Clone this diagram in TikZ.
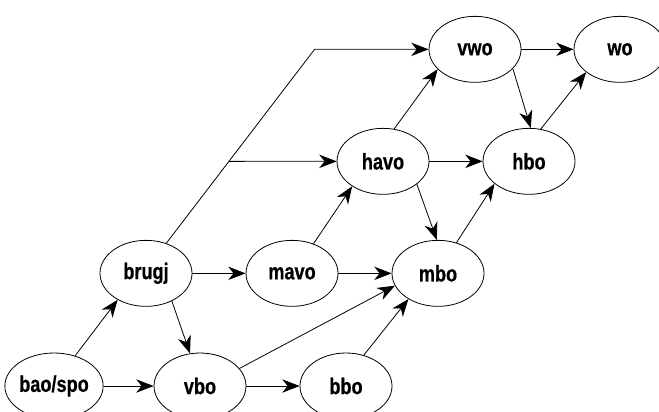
\documentclass[tikz,border=0pt]{standalone}
\usepackage{fontspec}
\newfontfamily\nlfont{Liberation Sans}[FakeStretch=0.8,FakeBold=0.6]
\usepackage{xcolor}
\definecolor{nlInk}{RGB}{0,0,0}
\usepackage{tikz}
\usetikzlibrary{positioning,arrows.meta,shapes.geometric}
\tikzset{
  nl-school/.style={ellipse,draw=nlInk,line width=0.6pt,minimum width=69pt,minimum height=49.5pt,
    inner sep=0pt,text=nlInk,font=\nlfont\bfseries\fontsize{17}{19}\selectfont},
  nl-arrow/.style={-{Stealth[length=13pt,width=10pt,inset=4pt]},nlInk,line width=0.6pt},
}
\begin{document}
\begin{tikzpicture}[x=0.75pt,y=-0.75pt,on grid,node distance=84.5pt and 109.5pt]
  \useasboundingbox (0,0) rectangle (659,411);

  % bottom row
  \node[nl-school] at (54,386) (bao) {bao/spo};
  \node[nl-school,right=of bao] (vbo) {vbo};
  \node[nl-school,right=of vbo] (bbo) {bbo};

  % middle rows
  \node[nl-school,above right=84.5pt and 69pt of bao] (brugj) {brugj};
  \node[nl-school,right=of brugj] (mavo) {mavo};
  \node[nl-school,right=of mavo] (mbo) {mbo};
  \node[nl-school,above right=84pt and 68.25pt of mavo] (havo) {havo};
  \node[nl-school,right=of havo] (hbo) {hbo};

  % top row
  \node[nl-school,above right=84pt and 69pt of havo] (vwo) {vwo};
  \node[nl-school,right=108.75pt of vwo] (wo) {wo};

  % long route brugj -> vwo, with a branch to havo
  \coordinate[left=85.5pt of vwo.west] (kink);
  \coordinate (fork) at (intersection of brugj.56--kink and havo.west--havo.east);

  % edges
  \draw[nl-arrow] (bao) -- (vbo);
  \draw[nl-arrow] (vbo) -- (bbo);
  \draw[nl-arrow] (bao.55) -- (brugj.223);
  \draw[nl-arrow] (brugj.-47) -- (vbo.107);
  \draw[nl-arrow] (brugj) -- (mavo);
  \draw[nl-arrow] (mavo) -- (mbo);
  \draw[nl-arrow] (vbo.24) -- (mbo.196);
  \draw[nl-arrow] (bbo.60) -- (mbo.221);
  \draw[nl-arrow] (mavo.54) -- (havo.219);
  \draw[nl-arrow] (havo.71) -- (vwo.208);
  \draw[nl-arrow] (havo) -- (hbo);
  \draw[nl-arrow] (havo.-34) -- (mbo.92);
  \draw[nl-arrow] (mbo.59) -- (hbo.213);
  \draw[nl-arrow] (vwo) -- (wo);
  \draw[nl-arrow] (vwo.-27) -- (hbo.87);
  \draw[nl-arrow] (hbo.70) -- (wo.214);
  \draw[nl-arrow] (brugj.56) -- (kink) -- (vwo.west);
  \draw[nl-arrow] (fork) -- (havo.west);
\end{tikzpicture}
\end{document}
